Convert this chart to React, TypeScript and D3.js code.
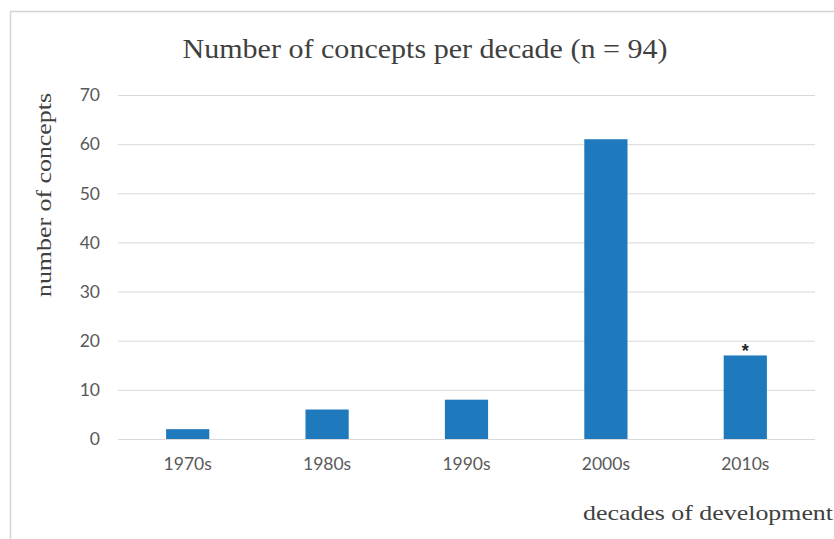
import * as d3 from 'd3';
import React, { useEffect, useRef } from 'react';

const decades = ['1970s', '1980s', '1990s', '2000s', '2010s'];
const concepts = [2, 6, 8, 61, 17];
const yTicks = [0, 10, 20, 30, 40, 50, 60, 70];
const markedDecades = ['2010s'];

const width = 834;
const height = 539;

const App: React.FC = () => {
  const svgRef = useRef<SVGSVGElement>(null);

  useEffect(() => {
    if (!svgRef.current) return;
    const svg = d3.select(svgRef.current);
    svg.selectAll('*').remove();

    const margin = { top: 95, right: 19, bottom: 100, left: 118 };
    const innerWidth = width - margin.left - margin.right;
    const innerHeight = height - margin.top - margin.bottom;

    // chart frame
    svg.append('rect')
      .attr('x', 10.5)
      .attr('y', 11.5)
      .attr('width', width + 20)
      .attr('height', height + 20)
      .attr('fill', '#fff')
      .attr('stroke', '#d4d4d4')
      .attr('stroke-width', 1.5);

    const g = svg.append('g')
      .attr('transform', `translate(${margin.left}, ${margin.top})`);

    const x = d3.scaleBand()
      .domain(decades)
      .range([0, innerWidth])
      .padding(0);

    const y = d3.scaleLinear()
      .domain([0, 70])
      .range([innerHeight, 0]);

    // gridlines
    g.selectAll('line.grid')
      .data(yTicks)
      .join('line')
      .attr('class', 'grid')
      .attr('x1', 0)
      .attr('x2', innerWidth)
      .attr('y1', d => y(d) + 0.5)
      .attr('y2', d => y(d) + 0.5)
      .attr('stroke', '#d9d9d9')
      .attr('stroke-width', 1);

    // y tick labels
    g.selectAll('text.ytick')
      .data(yTicks)
      .join('text')
      .attr('class', 'ytick')
      .attr('x', -18)
      .attr('y', d => y(d))
      .attr('dy', '0.36em')
      .attr('text-anchor', 'end')
      .attr('font-family', 'Lato, "Open Sans", sans-serif')
      .attr('font-size', '17.5px')
      .attr('fill', '#595959')
      .text(d => d);

    // bars
    const barWidth = x.bandwidth() * 0.31;
    g.selectAll('rect.bar')
      .data(decades.map((d, i) => ({ decade: d, value: concepts[i] })))
      .join('rect')
      .attr('class', 'bar')
      .attr('x', d => (x(d.decade) || 0) + (x.bandwidth() - barWidth) / 2)
      .attr('y', d => y(d.value))
      .attr('width', barWidth)
      .attr('height', d => innerHeight - y(d.value))
      .attr('fill', '#1f7abd');

    // asterisk markers
    g.selectAll('text.mark')
      .data(markedDecades)
      .join('text')
      .attr('class', 'mark')
      .attr('x', d => (x(d) || 0) + x.bandwidth() / 2)
      .attr('y', d => y(concepts[decades.indexOf(d)]) + 2)
      .attr('text-anchor', 'middle')
      .attr('font-family', '"Liberation Sans", sans-serif')
      .attr('font-size', '18px')
      .attr('font-weight', 'bold')
      .attr('fill', '#222')
      .text('*');

    // x tick labels
    g.selectAll('text.xtick')
      .data(decades)
      .join('text')
      .attr('class', 'xtick')
      .attr('x', d => (x(d) || 0) + x.bandwidth() / 2)
      .attr('y', innerHeight + 31)
      .attr('text-anchor', 'middle')
      .attr('font-family', 'Lato, "Open Sans", sans-serif')
      .attr('font-size', '17.5px')
      .attr('fill', '#595959')
      .text(d => d);

    // title
    svg.append('text')
      .attr('x', 425)
      .attr('y', 58)
      .attr('text-anchor', 'middle')
      .attr('font-family', '"Liberation Serif", serif')
      .attr('font-size', '27px')
      .attr('fill', '#404040')
      .attr('textLength', 485)
      .attr('lengthAdjust', 'spacingAndGlyphs')
      .text('Number of concepts per decade (n = 94)');

    // axis titles
    svg.append('text')
      .attr('transform', `translate(51, 195) rotate(-90)`)
      .attr('text-anchor', 'middle')
      .attr('font-family', '"Liberation Serif", serif')
      .attr('font-size', '20px')
      .attr('fill', '#404040')
      .attr('textLength', 204)
      .attr('lengthAdjust', 'spacingAndGlyphs')
      .text('number of concepts');

    svg.append('text')
      .attr('x', 583)
      .attr('y', 520)
      .attr('font-family', '"Liberation Serif", serif')
      .attr('font-size', '21px')
      .attr('fill', '#404040')
      .attr('textLength', 250)
      .attr('lengthAdjust', 'spacingAndGlyphs')
      .text('decades of development');
  }, []);

  return (
    <svg
      ref={svgRef}
      width={width}
      height={height}
      style={{ position: 'absolute', left: 0, top: 0, background: '#fff' }}
    />
  );
};

export default App;
